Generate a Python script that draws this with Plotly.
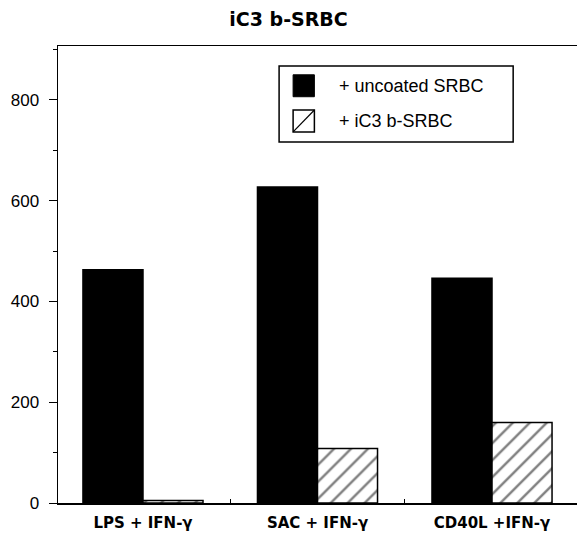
import plotly.graph_objects as go

categories = ["LPS + IFN-γ", "SAC + IFN-γ", "CD40L +IFN-γ"]
series_names = ["+ uncoated SRBC", "+ iC3 b-SRBC"]
uncoated = [463, 627, 446]
ic3b = [5, 108, 160]
title_text = "iC3 b-SRBC"
ytick_vals = [0, 200, 400, 600, 800]

FONT = "Liberation Sans, Arial, Helvetica, sans-serif"
BOLD = "DejaVu Sans, Liberation Sans, Arial, sans-serif"

fig = go.Figure()
fig.add_trace(go.Bar(
    x=categories, y=uncoated, name=series_names[0],
    marker=dict(color="black", line=dict(color="black", width=1.5)),
    showlegend=False,
))
fig.add_trace(go.Bar(
    x=categories, y=ic3b, name=series_names[1],
    marker=dict(color="white", line=dict(color="black", width=1.5),
                pattern=dict(shape="/", fgcolor="black", bgcolor="white",
                             size=12, solidity=0.2)),
    showlegend=False,
))

# custom legend (box, icons, labels) in paper coordinates
shapes = [
    dict(type="rect", xref="paper", yref="paper", x0=0.426, x1=0.877, y0=0.790, y1=0.956,
         line=dict(color="black", width=1.5), fillcolor="white", layer="above"),
    dict(type="rect", xref="paper", yref="paper", x0=0.453, x1=0.494, y0=0.889, y1=0.937,
         line=dict(color="black", width=1), fillcolor="black", layer="above"),
    dict(type="rect", xref="paper", yref="paper", x0=0.453, x1=0.494, y0=0.812, y1=0.860,
         line=dict(color="black", width=1.5), fillcolor="white", layer="above"),
    dict(type="line", xref="paper", yref="paper", x0=0.453, x1=0.494, y0=0.812, y1=0.860,
         line=dict(color="black", width=1.2), layer="above"),
]
annotations = [
    dict(text=series_names[0], xref="paper", yref="paper", x=0.537, y=0.913,
         xanchor="left", yanchor="middle", showarrow=False,
         font=dict(family=FONT, size=18, color="black")),
    dict(text=series_names[1], xref="paper", yref="paper", x=0.537, y=0.836,
         xanchor="left", yanchor="middle", showarrow=False,
         font=dict(family=FONT, size=18, color="black")),
]

fig.update_layout(
    width=577, height=535,
    margin=dict(l=58, r=0, t=46, b=32, autoexpand=False),
    paper_bgcolor="white", plot_bgcolor="white",
    barmode="group", bargap=0.312, bargroupgap=0,
    title=dict(text="<b>" + title_text + "</b>", x=0.5, xref="container", xanchor="center",
               y=0.963, yref="container", yanchor="middle",
               font=dict(family=BOLD, size=19, color="black")),
    font=dict(family=FONT, color="black"),
    shapes=shapes, annotations=annotations,
    showlegend=False,
)
fig.update_xaxes(
    range=[-0.487, 2.487], showline=True, linecolor="black", linewidth=1.5, mirror=True,
    ticks="inside", tickson="boundaries", ticklen=4, tickcolor="black",
    showgrid=False, zeroline=False, automargin=False, ticklabelstandoff=5,
    tickfont=dict(family=BOLD, size=15, color="black", weight="bold"),
)
fig.update_yaxes(
    range=[0, 907], showline=True, linecolor="black", linewidth=1.5,
    tickvals=ytick_vals, ticks="outside", ticklen=8, tickcolor="black", tickwidth=1,
    minor=dict(dtick=100, tick0=100, ticks="outside", ticklen=4, tickcolor="black"),
    showgrid=False, zeroline=False, automargin=False, ticklabelstandoff=6,
    tickfont=dict(family=FONT, size=17, color="black"),
)

fig.write_html(
    "out.html",
    config={"displayModeBar": False, "staticPlot": True},
    post_script="document.body.style.margin='0';document.body.style.padding='0';"
                "document.body.style.overflow='hidden';",
)
